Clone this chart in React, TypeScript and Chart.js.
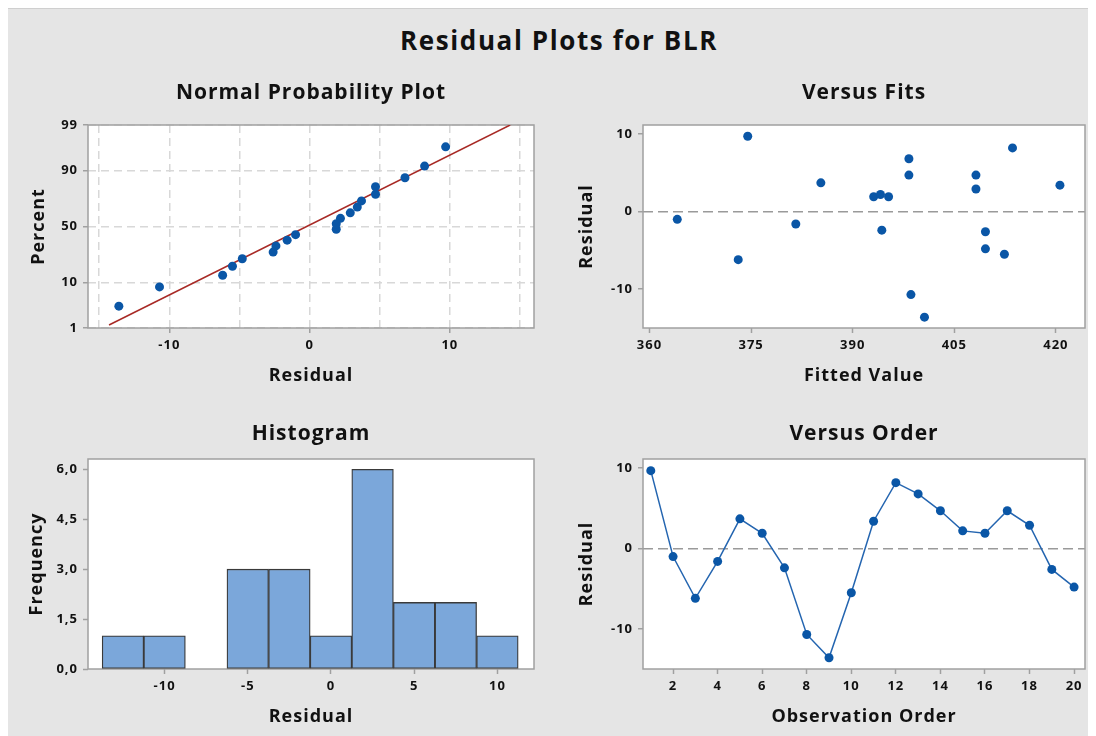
import React, { useEffect, useRef } from 'react';
import { Chart, registerables, Scale } from 'chart.js';

Chart.register(...registerables);

// ---------------- data ----------------
const observationOrder = [1, 2, 3, 4, 5, 6, 7, 8, 9, 10, 11, 12, 13, 14, 15, 16, 17, 18, 19, 20];
const residuals = [9.7, -1.0, -6.2, -1.6, 3.7, 1.9, -2.4, -10.7, -13.6, -5.5, 3.4, 8.2, 6.8, 4.7, 2.2, 1.9, 4.7, 2.9, -2.6, -4.8];
const fittedValues = [374.5, 364.1, 373.1, 381.6, 385.3, 393.1, 394.3, 398.6, 400.6, 412.4, 420.6, 413.6, 398.3, 398.3, 394.1, 395.3, 408.2, 408.2, 409.6, 409.6];

// normal probability plot: sorted residuals against their plotted percent
const nppPercent = [3.4, 8.3, 13.2, 18.1, 23.0, 27.9, 32.8, 37.7, 42.6, 47.5, 52.5, 57.4, 62.3, 67.2, 72.1, 77.0, 81.9, 86.8, 91.7, 96.6];
const nppFitResidual = [-14.3, 14.3];
const nppFitPercent = [1.2, 99];

// histogram
const histBinCenters = [-12.5, -10, -7.5, -5, -2.5, 0, 2.5, 5, 7.5, 10];
const histCounts = [1, 1, 0, 3, 3, 1, 6, 2, 2, 1];

// ticks
const nppXTicks = [-15, -10, -5, 0, 5, 10, 15];
const nppXLabels = ['', '-10', '', '0', '', '10', ''];
const nppYTicks = [1, 10, 50, 90, 99];
const fitsXTicks = [360, 375, 390, 405, 420];
const residualTicks = [-10, 0, 10];
const orderXTicks = [2, 4, 6, 8, 10, 12, 14, 16, 18, 20];
const histXTicks = [-10, -5, 0, 5, 10];
const histYTicks = [0, 1.5, 3, 4.5, 6];
const histYLabels = ['0,0', '1,5', '3,0', '4,5', '6,0'];

// ---------------- styling ----------------
const FONT = '"Open Sans", "DejaVu Sans", sans-serif';
const BLUE = '#0a56a6';
const LINE_BLUE = '#2465b0';
const FIT_RED = '#a82a26';
const FRAME = '#a0a0a0';
const GRID_LIGHT = '#d8d8d8';
const ZERO_LINE = '#9a9a9a';
const TEXT = '#111111';
const TICK_FONT = { family: FONT, size: 13, weight: 'bold' as const };
const AXIS_FONT = { family: FONT, size: 18, weight: 'bold' as const, lineHeight: 1.2 };
const TITLE_FONT = { family: FONT, size: 21, weight: 'bold' as const, lineHeight: 1.2 };

// ---------------- probit scale ----------------
function probit(p: number): number {
  const a = [-39.69683028665376, 220.9460984245205, -275.9285104469687, 138.357751867269, -30.66479806614716, 2.506628277459239];
  const b = [-54.47609879822406, 161.5858368580409, -155.6989798598866, 66.80131188771972, -13.28068155288572];
  const c = [-0.007784894002430293, -0.3223964580411365, -2.400758277161838, -2.549732539343734, 4.374664141464968, 2.938163982698783];
  const d = [0.007784695709041462, 0.3224671290700398, 2.445134137142996, 3.754408661907416];
  const pl = 0.02425;
  if (p < pl) {
    const q = Math.sqrt(-2 * Math.log(p));
    return (((((c[0] * q + c[1]) * q + c[2]) * q + c[3]) * q + c[4]) * q + c[5]) / ((((d[0] * q + d[1]) * q + d[2]) * q + d[3]) * q + 1);
  }
  if (p > 1 - pl) {
    const q = Math.sqrt(-2 * Math.log(1 - p));
    return -(((((c[0] * q + c[1]) * q + c[2]) * q + c[3]) * q + c[4]) * q + c[5]) / ((((d[0] * q + d[1]) * q + d[2]) * q + d[3]) * q + 1);
  }
  const q = p - 0.5;
  const r = q * q;
  return ((((((a[0] * r + a[1]) * r + a[2]) * r + a[3]) * r + a[4]) * r + a[5]) * q) / (((((b[0] * r + b[1]) * r + b[2]) * r + b[3]) * r + b[4]) * r + 1);
}
function normCdf(z: number): number {
  const t = 1 / (1 + 0.2316419 * Math.abs(z));
  const dd = 0.3989423 * Math.exp((-z * z) / 2);
  const q = dd * t * (0.3193815 + t * (-0.3565638 + t * (1.781478 + t * (-1.821256 + t * 1.330274))));
  return z > 0 ? 1 - q : q;
}

class ProbitScale extends Scale {
  static id = 'probit';
  static defaults = {};
  _zMin = -2.326;
  _zMax = 2.326;
  parse(raw: any) {
    const v = typeof raw === 'number' ? raw : Number(raw);
    return Number.isFinite(v) ? v : null;
  }
  determineDataLimits() {
    const o: any = this.options;
    (this as any).min = o.min ?? 1;
    (this as any).max = o.max ?? 99;
  }
  buildTicks() {
    return nppYTicks.map((value) => ({ value }));
  }
  getLabelForValue(v: number) {
    return String(v);
  }
  configure() {
    super.configure();
    this._zMin = probit((this as any).min / 100);
    this._zMax = probit((this as any).max / 100);
  }
  getPixelForValue(v: number) {
    return this.getPixelForDecimal((probit(v / 100) - this._zMin) / (this._zMax - this._zMin));
  }
  getValueForPixel(px: number) {
    const dec = this.getDecimalForPixel(px);
    return 100 * normCdf(this._zMin + dec * (this._zMax - this._zMin));
  }
}
Chart.register(ProbitScale as any);

// ---------------- plugins ----------------
const framePlugin = {
  id: 'plotFrame',
  beforeDraw(chart: any) {
    const { ctx, chartArea: a } = chart;
    ctx.save();
    ctx.fillStyle = '#ffffff';
    ctx.fillRect(a.left, a.top, a.right - a.left, a.bottom - a.top);
    ctx.restore();
  },
  beforeDatasetsDraw(chart: any) {
    const { ctx, chartArea: a } = chart;
    ctx.save();
    ctx.strokeStyle = FRAME;
    ctx.lineWidth = 1.5;
    ctx.strokeRect(a.left, a.top, a.right - a.left, a.bottom - a.top);
    ctx.restore();
  },
};
const spacingPlugin = {
  id: 'letterSpacing',
  beforeUpdate(chart: any) {
    chart.ctx.letterSpacing = '1px';
  },
  beforeDraw(chart: any) {
    chart.ctx.letterSpacing = '1px';
  },
};

// ---------------- geometry ----------------
type Geom = { left: number; top: number; w: number; h: number; plot: number[]; titleY: number; yTitleX: number; xTitleY: number };
const G_NPP: Geom = { left: 0, top: 51, w: 550, h: 340, plot: [81, 65, 527, 268], titleY: 33.5, yTitleX: 32, xTitleY: 316 };
const G_FITS: Geom = { left: 550, top: 51, w: 539, h: 340, plot: [86, 65, 528, 268], titleY: 33.5, yTitleX: 29.5, xTitleY: 316 };
const G_HIST: Geom = { left: 0, top: 391, w: 550, h: 336, plot: [81, 59, 527, 269], titleY: 34.3, yTitleX: 29.6, xTitleY: 317 };
const G_ORDER: Geom = { left: 550, top: 391, w: 539, h: 336, plot: [86, 59, 528, 269], titleY: 34.3, yTitleX: 29.5, xTitleY: 317 };

function fixedTicks(values: number[]) {
  return (s: any) => {
    s.ticks = values.map((value) => ({ value }));
  };
}

function buildOptions(g: Geom, title: string, xTitle: string, yTitle: string, xScale: any, yScale: any) {
  const axHalf = (AXIS_FONT.size * 1.2) / 2;
  const tiHalf = (TITLE_FONT.size * 1.2) / 2;
  const padL = g.yTitleX - axHalf;
  const wy = g.plot[0] - padL;
  const padR = g.w - g.plot[2];
  const hx = g.xTitleY + axHalf - g.plot[3];
  const padB = g.h - g.plot[3] - hx;
  const tTop = g.titleY - tiHalf;
  const tBottom = g.plot[1] - g.titleY - tiHalf;
  return {
    responsive: false,
    animation: false,
    devicePixelRatio: 1,
    events: [],
    layout: { padding: { left: padL, right: padR, top: 0, bottom: padB } },
    plugins: {
      legend: { display: false },
      tooltip: { enabled: false },
      title: {
        display: true,
        text: title,
        fullSize: false,
        color: TEXT,
        font: TITLE_FONT,
        padding: { top: tTop, bottom: tBottom },
      },
    },
    scales: {
      x: {
        position: 'bottom',
        ...xScale,
        afterFit: (s: any) => {
          s.height = hx;
        },
        title: { display: true, text: xTitle, color: TEXT, font: AXIS_FONT, padding: { top: 0, bottom: 0 } },
      },
      y: {
        position: 'left',
        ...yScale,
        afterFit: (s: any) => {
          s.width = wy;
        },
        title: { display: true, text: yTitle, color: TEXT, font: AXIS_FONT, padding: { top: 0, bottom: 0 } },
      },
    },
  };
}

const tickMarks = { tickLength: 5, tickWidth: 1.5, tickColor: FRAME };

function residualYScale() {
  return {
    type: 'linear',
    min: -15,
    max: 11.15,
    afterBuildTicks: fixedTicks(residualTicks),
    ticks: { autoSkip: false, padding: 5, color: TEXT, font: TICK_FONT, callback: (v: number) => String(v) },
    grid: {
      ...tickMarks,
      lineWidth: 1.5,
      color: (c: any) => (c.tick && c.tick.value === 0 ? ZERO_LINE : 'rgba(0,0,0,0)'),
    },
    border: { display: false, dash: [10, 5] },
  };
}

function nppConfig(): any {
  return {
    type: 'scatter',
    data: {
      datasets: [
        {
          type: 'line',
          data: nppFitResidual.map((x, i) => ({ x, y: nppFitPercent[i] })),
          borderColor: FIT_RED,
          borderWidth: 1.5,
          pointRadius: 0,
          tension: 0,
          fill: false,
          order: 2,
        },
        {
          type: 'scatter',
          data: [...residuals].sort((a, b) => a - b).map((x, i) => ({ x, y: nppPercent[i] })),
          backgroundColor: BLUE,
          borderWidth: 0,
          pointRadius: 4.5,
          order: 1,
        },
      ],
    },
    options: buildOptions(
      G_NPP,
      'Normal Probability Plot',
      'Residual',
      'Percent',
      {
        type: 'linear',
        min: -15.8,
        max: 16,
        afterBuildTicks: fixedTicks(nppXTicks),
        ticks: {
          autoSkip: false,
          maxRotation: 0,
          padding: 4,
          color: TEXT,
          font: TICK_FONT,
          callback: (v: number) => nppXLabels[nppXTicks.indexOf(v)] ?? '',
        },
        grid: {
          ...tickMarks,
          color: GRID_LIGHT,
          lineWidth: 1.5,
          tickColor: (c: any) => (nppXLabels[c.index] ? FRAME : 'rgba(0,0,0,0)'),
        },
        border: { display: false, dash: [8, 5] },
      },
      {
        type: 'probit',
        min: 1,
        max: 99,
        ticks: { autoSkip: false, padding: 5, color: TEXT, font: TICK_FONT, callback: (v: number) => String(v) },
        grid: { ...tickMarks, color: GRID_LIGHT, lineWidth: 1.5 },
        border: { display: false, dash: [8, 5] },
      }
    ),
    plugins: [spacingPlugin, framePlugin],
  };
}

function fitsConfig(): any {
  return {
    type: 'scatter',
    data: {
      datasets: [
        {
          data: fittedValues.map((x, i) => ({ x, y: residuals[i] })),
          backgroundColor: BLUE,
          borderWidth: 0,
          pointRadius: 4.5,
        },
      ],
    },
    options: buildOptions(
      G_FITS,
      'Versus Fits',
      'Fitted Value',
      'Residual',
      {
        type: 'linear',
        min: 359.04,
        max: 424.3,
        afterBuildTicks: fixedTicks(fitsXTicks),
        ticks: { autoSkip: false, maxRotation: 0, padding: 4, color: TEXT, font: TICK_FONT, callback: (v: number) => String(v) },
        grid: { ...tickMarks, drawOnChartArea: false },
        border: { display: false },
      },
      residualYScale()
    ),
    plugins: [spacingPlugin, framePlugin],
  };
}

function histConfig(): any {
  return {
    type: 'bar',
    data: {
      datasets: [
        {
          data: histBinCenters.map((x, i) => ({ x, y: histCounts[i] })),
          backgroundColor: '#7ba7da',
          borderColor: '#3a3a3a',
          borderWidth: 1.3,
          borderSkipped: false,
          barPercentage: 1,
          categoryPercentage: 1,
        },
      ],
    },
    options: buildOptions(
      G_HIST,
      'Histogram',
      'Residual',
      'Frequency',
      {
        type: 'linear',
        min: -14.6,
        max: 12.2,
        offset: false,
        afterBuildTicks: fixedTicks(histXTicks),
        ticks: { autoSkip: false, maxRotation: 0, padding: 4, color: TEXT, font: TICK_FONT, callback: (v: number) => String(v) },
        grid: { ...tickMarks, offset: false, drawOnChartArea: false },
        border: { display: false },
      },
      {
        type: 'linear',
        min: 0,
        max: 6.31,
        afterBuildTicks: fixedTicks(histYTicks),
        ticks: {
          autoSkip: false,
          padding: 5,
          color: TEXT,
          font: TICK_FONT,
          callback: (v: number) => histYLabels[histYTicks.indexOf(v)] ?? '',
        },
        grid: { ...tickMarks, drawOnChartArea: false },
        border: { display: false },
      }
    ),
    plugins: [spacingPlugin, framePlugin],
  };
}

function orderConfig(): any {
  return {
    type: 'scatter',
    data: {
      datasets: [
        {
          data: observationOrder.map((x, i) => ({ x, y: residuals[i] })),
          showLine: true,
          borderColor: LINE_BLUE,
          borderWidth: 1.5,
          backgroundColor: BLUE,
          pointBackgroundColor: BLUE,
          pointBorderWidth: 0,
          pointRadius: 4.5,
          tension: 0,
        },
      ],
    },
    options: buildOptions(
      G_ORDER,
      'Versus Order',
      'Observation Order',
      'Residual',
      {
        type: 'linear',
        min: 0.65,
        max: 20.49,
        afterBuildTicks: fixedTicks(orderXTicks),
        ticks: { autoSkip: false, maxRotation: 0, padding: 4, color: TEXT, font: TICK_FONT, callback: (v: number) => String(v) },
        grid: { ...tickMarks, drawOnChartArea: false },
        border: { display: false },
      },
      residualYScale()
    ),
    plugins: [spacingPlugin, framePlugin],
  };
}

function Panel({ geom, make }: { geom: Geom; make: () => any }) {
  const ref = useRef<HTMLCanvasElement>(null);
  useEffect(() => {
    if (!ref.current) return;
    const chart = new Chart(ref.current, make());
    return () => chart.destroy();
  }, []);
  return (
    <canvas
      ref={ref}
      width={geom.w}
      height={geom.h}
      style={{ position: 'absolute', left: geom.left, top: geom.top, width: geom.w, height: geom.h, display: 'block' }}
    />
  );
}

export default function App() {
  return (
    <div
      style={{
        position: 'relative',
        marginLeft: -2,
        width: 1090,
        height: 728,
        boxSizing: 'border-box',
        background: '#e5e5e5',
        borderTop: '1px solid #cfcfcf',
        borderLeft: '1px solid #cfcfcf',
        overflow: 'hidden',
      }}
    >
      <div
        style={{
          position: 'absolute',
          left: 250,
          top: 16,
          width: 600,
          textAlign: 'center',
          fontFamily: FONT,
          fontWeight: 'bold',
          fontSize: 26,
          lineHeight: '30px',
          letterSpacing: '1.6px',
          paddingLeft: 2,
          color: TEXT,
        }}
      >
        Residual Plots for BLR
      </div>
      <Panel geom={G_NPP} make={nppConfig} />
      <Panel geom={G_FITS} make={fitsConfig} />
      <Panel geom={G_HIST} make={histConfig} />
      <Panel geom={G_ORDER} make={orderConfig} />
    </div>
  );
}
